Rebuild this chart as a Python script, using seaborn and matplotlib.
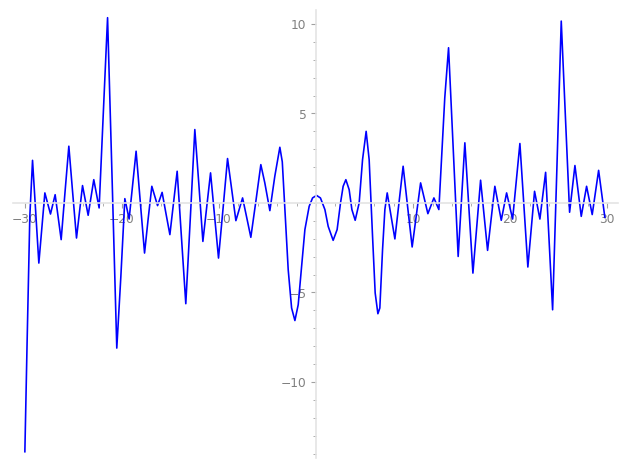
import numpy as np
import pandas as pd
import matplotlib
matplotlib.use("Agg")
import matplotlib.pyplot as plt
import seaborn as sns
from matplotlib.ticker import MultipleLocator, FuncFormatter

# points along the curve (turning points plus a few in between)
curve_x = [-30.0, -29.77, -29.49, -29.21, -28.56, -27.94, -27.36, -26.88, -26.26, -25.87,
           -25.47, -25.08, -24.68, -24.06, -23.48, -22.90, -22.35, -21.92, -21.48, -21.00,
           -20.53, -20.11, -19.70, -19.26, -18.54, -18.10, -17.67, -17.30, -16.92, -16.33,
           -15.86, -15.46, -15.06, -14.31, -13.87, -13.42, -12.95, -12.49, -12.07, -11.66,
           -11.27, -10.87, -10.46, -10.05, -9.58, -9.12, -8.69, -8.26, -7.57, -7.15,
           -6.72, -6.20, -5.69, -5.28, -4.76, -4.25, -3.73, -3.48, -3.21, -2.87,
           -2.52, -2.18, -1.84, -1.49, -1.15, -0.71, -0.36, 0.05, 0.45, 0.91,
           1.25, 1.76, 2.17, 2.52, 2.79, 3.07, 3.41, 3.69, 4.03, 4.44,
           4.79, 5.16, 5.47, 5.82, 6.09, 6.37, 6.57, 6.85, 7.09, 7.33,
           8.12, 8.97, 9.43, 9.90, 10.77, 11.52, 12.14, 12.65, 13.26, 13.65,
           14.15, 14.64, 15.33, 16.16, 16.95, 17.67, 18.42, 19.08, 19.63, 20.25,
           21.00, 21.82, 22.51, 23.06, 23.65, 24.37, 24.82, 25.26, 25.69, 26.12,
           26.67, 27.32, 27.87, 28.45, 29.11, 29.75]
curve_y = [-13.9, -7.8, -0.75, 2.38, -3.36, 0.56, -0.62, 0.46, -2.05, 0.56,
           3.17, 0.60, -1.96, 0.97, -0.69, 1.30, -0.28, 5.0, 10.35, 1.1,
           -8.11, -4.1, 0.24, -0.90, 2.89, 0.0, -2.80, -0.9, 0.93, -0.15,
           0.59, -0.6, -1.77, 1.77, -1.9, -5.63, -0.8, 4.10, 1.0, -2.15,
           -0.25, 1.68, -0.7, -3.08, -0.3, 2.48, 0.75, -0.99, 0.28, -0.8,
           -1.92, 0.1, 2.14, 1.12, -0.43, 1.49, 3.11, 2.3, -0.37, -3.73,
           -5.87, -6.57, -5.69, -3.55, -1.49, -0.19, 0.28, 0.42, 0.28, -0.37,
           -1.31, -2.09, -1.49, 0.0, 0.93, 1.30, 0.74, -0.37, -0.97, 0.0,
           2.42, 4.00, 2.42, -1.87, -5.03, -6.19, -5.87, -2.61, -0.37, 0.56,
           -2.01, 2.05, -0.2, -2.46, 1.12, -0.60, 0.28, -0.37, 5.87, 8.67,
           2.8, -2.99, 3.36, -3.92, 1.27, -2.65, 0.93, -0.97, 0.56, -0.90,
           3.32, -3.58, 0.65, -0.90, 1.71, -5.97, 2.1, 10.16, 4.8, -0.52,
           2.09, -0.75, 0.93, -0.65, 1.82, -0.8]

x_ticks = [-30, -20, -10, 10, 20, 30]
y_ticks = [-10, -5, 5, 10]

df = pd.DataFrame({"x": curve_x, "y": curve_y})

fig = plt.figure(figsize=(6.4, 4.8), dpi=98)
ax = fig.add_axes([0.0203, 0.0255, 0.9657, 0.9532])

sns.lineplot(data=df, x="x", y="y", sort=False, estimator=None, color="blue", linewidth=1.2, ax=ax)

ax.set_xlim(-31.25, 31.15)
ax.set_ylim(-14.25, 10.8)
ax.set_xlabel("")
ax.set_ylabel("")

# axes through the origin
ax.spines["left"].set_position("zero")
ax.spines["bottom"].set_position("zero")
ax.spines["right"].set_visible(False)
ax.spines["top"].set_visible(False)
for s in ["left", "bottom"]:
    ax.spines[s].set_color("#e3e3e3")
    ax.spines[s].set_linewidth(1.2)

ax.set_xticks(x_ticks)
ax.set_yticks(y_ticks)
ax.xaxis.set_minor_locator(MultipleLocator(2))
ax.yaxis.set_minor_locator(MultipleLocator(1))
fmt = FuncFormatter(lambda v, p: f"{v:g}".replace("-", "\u2212"))
ax.xaxis.set_major_formatter(fmt)
ax.yaxis.set_major_formatter(fmt)
ax.tick_params(which="both", colors="#a0a0a0", labelcolor="#808080", labelsize=9)
ax.tick_params(which="major", length=3.5)
ax.tick_params(which="minor", length=2)

fig.savefig("out.png", dpi=98)
